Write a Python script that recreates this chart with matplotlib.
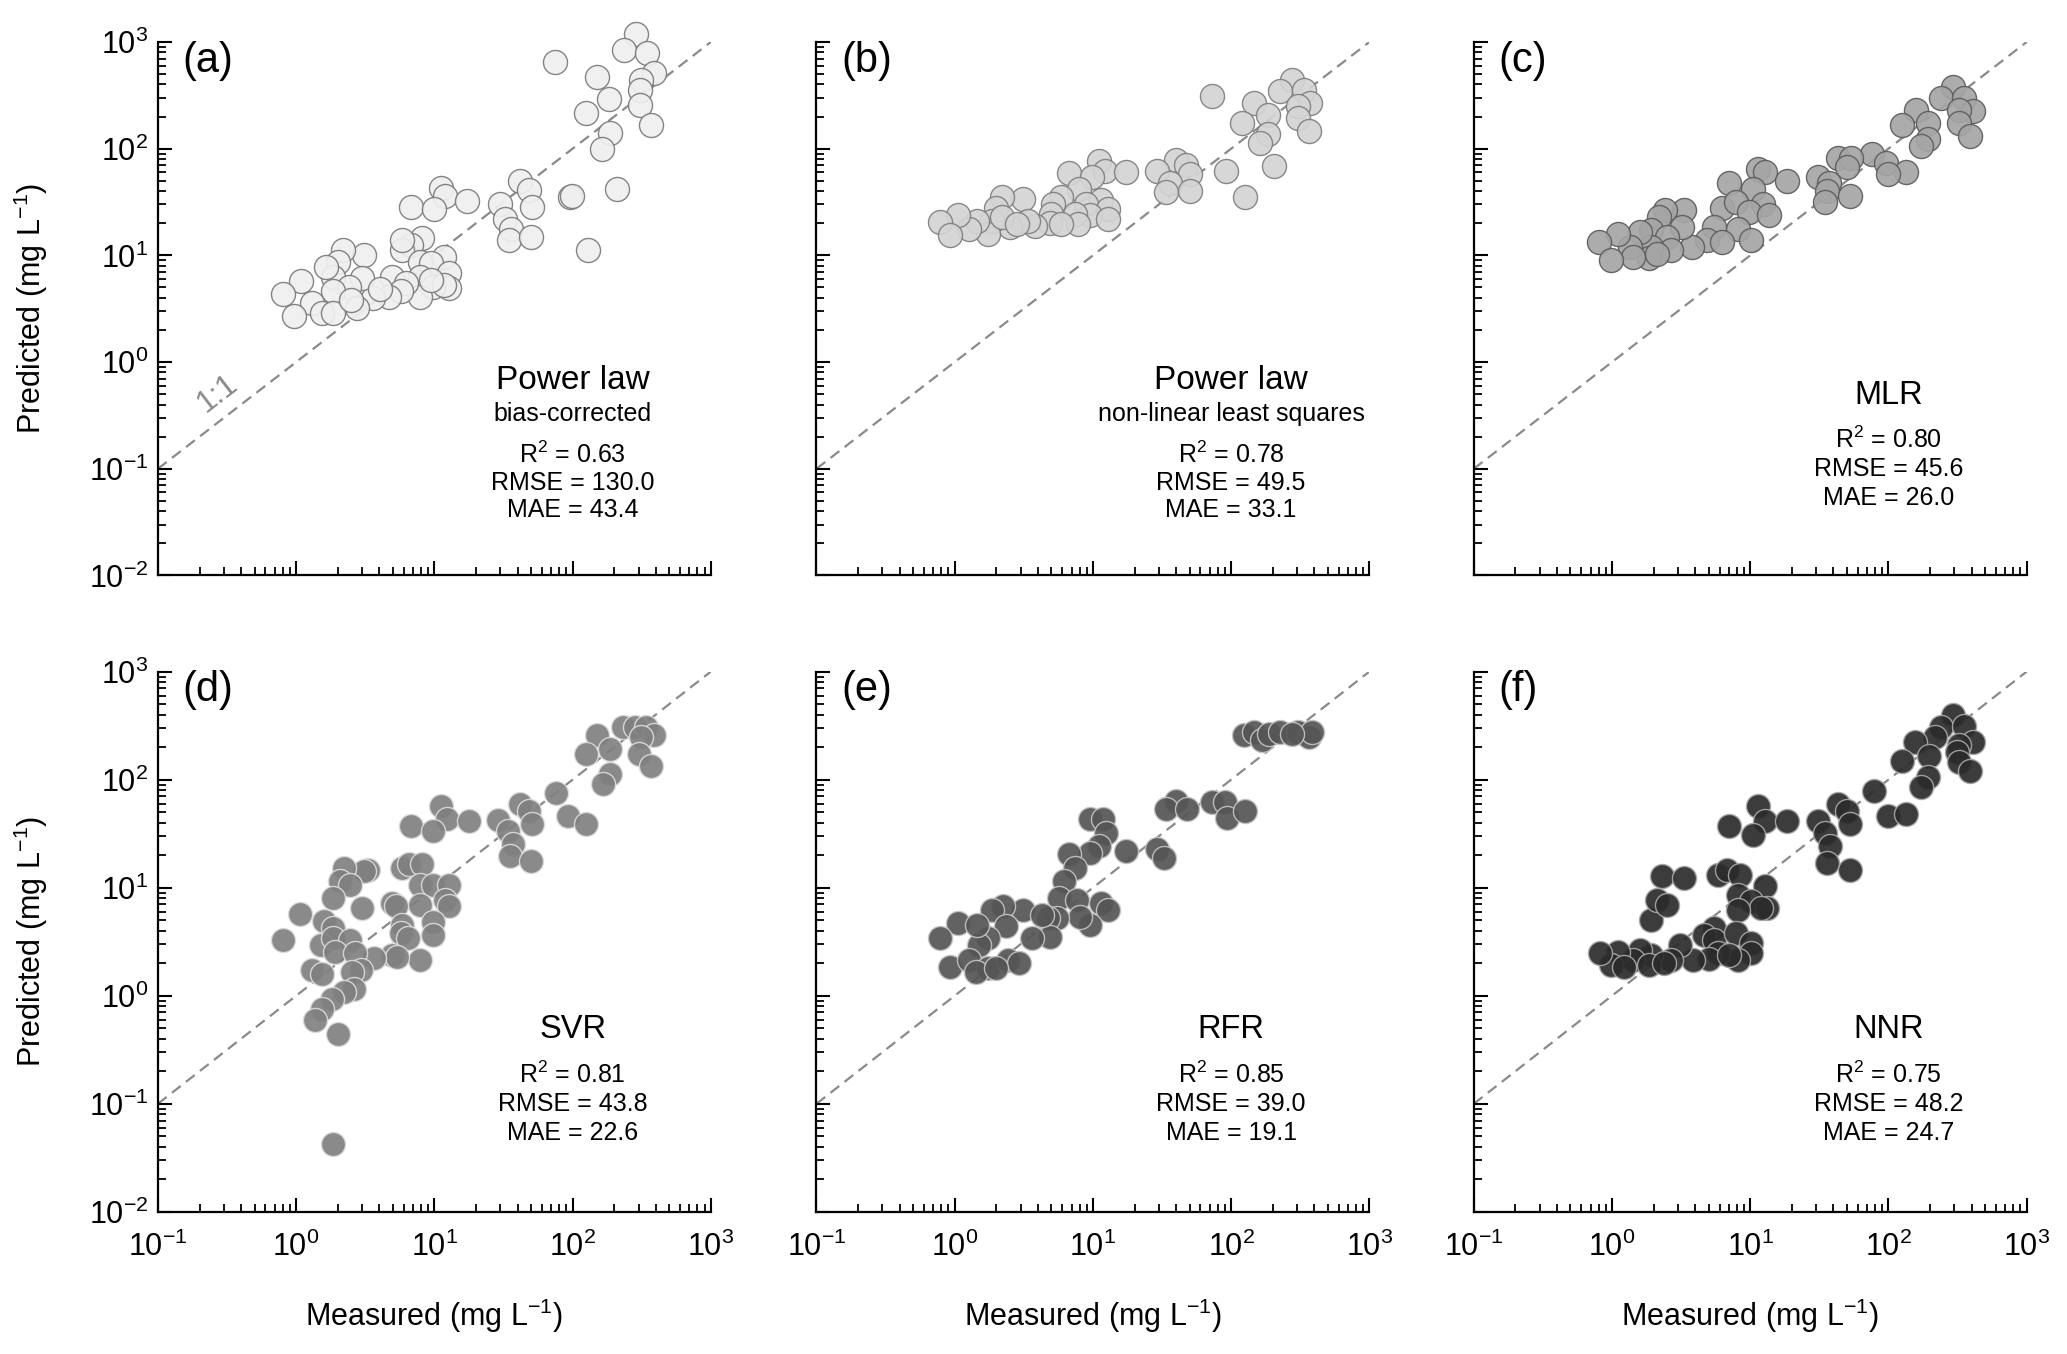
import math
import matplotlib
matplotlib.use('Agg')
import matplotlib.pyplot as plt
from matplotlib.ticker import LogLocator, NullFormatter

plt.rcParams['font.family'] = ['Liberation Sans', 'DejaVu Sans']
plt.rcParams['mathtext.fontset'] = 'custom'
plt.rcParams['mathtext.rm'] = 'Liberation Sans'
plt.rcParams['mathtext.it'] = 'Liberation Sans:italic'
plt.rcParams['mathtext.bf'] = 'Liberation Sans:bold'

# (a) power law, bias-corrected
meas_a = [287, 234, 344, 75, 150, 386, 313, 305, 184, 305, 124, 370, 187, 164, 208, 129, 96, 99,
          41.5, 48, 29.8, 51, 32.6, 35.6, 34.6, 49.7,
          11.1, 12, 17.3, 6.8, 9.9,
          8.1, 6.8, 5.8, 11.7, 7.9, 9.5, 12.8, 7.9, 12.8, 9.8, 7.9, 4.9, 6.2, 5.7, 4.7, 3.6, 3.1,
          2.2, 2.0, 3.0, 1.86, 2.4, 1.86, 1.08, 0.80, 1.30, 0.96, 1.55, 1.86, 2.75, 2.5, 1.65,
          11.7, 5.85, 9.5, 4.07]
pred_a = [1195, 837, 780, 652, 473, 508, 441, 356, 293, 258, 216, 168, 141, 99, 42, 11.2, 35.6, 36,
          50, 41, 30.4, 28.3, 22, 17.8, 13.9, 14.9,
          43, 36, 32, 28.3, 27.3,
          14.4, 12.5, 11.2, 9.7, 8.7, 8.4, 6.8, 6.3, 4.9, 5.1, 4.1, 6.3, 5.5, 4.6, 4.1, 4.0, 10.1,
          11.2, 8.7, 6.1, 6.3, 5.1, 4.6, 5.7, 4.3, 3.6, 2.7, 2.9, 2.9, 3.2, 3.85, 7.8,
          5.3, 13.9, 5.9, 4.8]

# (b) power law, non-linear least squares
meas_b = [277, 224, 336, 73, 147, 374, 303, 184, 303, 120, 363, 184, 161, 205, 126, 92,
          40, 47, 29, 50, 36, 34, 50,
          11, 12.2, 17.3, 6.7, 9.9, 7.9, 5.85, 11.4, 8.9, 12.8, 9.6, 7.4, 12.8, 7.8,
          5.1, 5.0, 4.9, 5.85, 3.8, 3.1, 3.4, 2.2, 2.0, 2.5, 1.86, 1.75, 1.46, 1.26, 1.05,
          0.78, 0.93, 2.2, 2.84]
pred_b = [441, 344, 356, 315, 267, 267, 249, 208, 194, 174, 146, 136, 114, 69, 35, 62,
          78, 71, 62, 58, 48, 39, 40,
          76, 62, 60, 59, 54, 42, 35, 33, 30, 27, 23.7, 24.5, 22, 19.8,
          30, 24.5, 20, 19.8, 19, 34, 21, 35, 28, 18.5, 21, 16, 21, 17.8, 23.7,
          20.6, 15.5, 22.9, 19.8]

# (c) MLR
meas_c = [294, 238, 352, 157, 410, 322, 322, 193, 126, 386, 193, 171,
          76, 96, 134, 99, 43, 54, 50, 31, 37, 36, 53, 35,
          11.4, 12.8, 18.4, 7.0, 10.4, 12.4, 6.2, 7.9, 9.8, 13.6, 8.1, 10.1, 5.5, 4.9, 6.2, 3.8,
          3.3, 2.4, 3.2, 2.2, 1.92, 2.5, 2.67, 1.92, 1.86, 1.6, 1.34, 1.42, 1.11, 0.80, 0.99, 2.1]
pred_c = [382, 298, 298, 232, 224, 232, 174, 174, 168, 131, 122, 106,
          89, 74, 60, 58, 82, 82, 67, 54, 48, 40, 36, 31.5,
          64, 60, 50, 48, 42, 30, 28, 31.5, 25.5, 23.7, 17.8, 13.9, 18.5, 13.9, 13.4, 12,
          26.4, 26.4, 18.5, 22.9, 17.2, 14.9, 11.2, 12, 9.4, 16.6, 12, 9.7, 16, 13.4, 9.1, 10.4]

# (d) SVR
meas_d = [231, 285, 342, 150, 386, 313, 187, 124, 303, 370, 187, 166,
          76, 41.5, 48, 93, 126, 29, 51, 34, 37, 35, 50,
          11.1, 12.4, 17.8, 6.8, 9.8, 5.85, 6.6, 8.1, 7.9, 9.8, 12.8, 12, 12.8, 7.9, 4.9, 5.3,
          9.8, 9.8, 5.85, 5.7, 6.4, 7.9, 4.9, 5.35, 3.65, 3.0, 3.3, 3.1, 2.23, 2.06, 2.44, 1.84,
          1.07, 1.6, 1.86, 0.80, 1.51, 1.86, 2.44, 1.92, 2.67, 2.93, 1.30, 1.55, 2.52, 2.6, 2.23,
          1.81, 1.55, 1.36, 2.0, 1.86]
pred_d = [307, 307, 307, 257, 257, 248, 193, 173, 173, 135, 113, 91,
          76, 60, 51, 46, 39, 42, 39, 33.5, 25.5, 19.6, 17.6,
          57, 43, 41.5, 37, 33.5, 15.2, 16.4, 16.4, 10.7, 10.7, 10.7, 7.7, 6.7, 6.95, 7.2, 6.7,
          4.85, 3.65, 4.5, 3.8, 3.4, 2.14, 2.38, 2.3, 2.24, 6.5, 14.7, 14.2, 15.2, 11.5, 10.7, 8.0,
          5.7, 4.93, 4.2, 3.25, 2.94, 3.4, 3.3, 2.55, 2.46, 1.72, 1.72, 1.6, 1.66, 1.16, 1.08,
          0.94, 0.76, 0.59, 0.44, 0.042]

# (e) RFR
meas_e = [123, 147, 166, 187, 224, 303, 363, 386, 277,
          40, 34, 48, 73, 91, 93, 126, 29, 32.6,
          9.6, 11.9, 12.4, 11, 17.3, 9.5, 6.7, 7.45, 6.2, 5.7, 7.7, 11.4, 12.8, 9.5, 8.1, 5.5,
          4.7, 4.9, 3.6, 3.1, 2.23, 1.86, 2.37, 1.75, 1.5, 1.05, 0.78, 0.93, 1.26, 1.75, 2.44,
          2.9, 1.42, 2.0, 1.46, 4.3]
pred_e = [257, 276, 231, 266, 276, 276, 248, 276, 266,
          64, 53, 53, 61.5, 61.5, 44.6, 51, 22.6, 18.9,
          43, 43, 32, 24.3, 21.8, 21, 20.6, 15.2, 11.5, 8.0, 7.7, 7.2, 6.2, 4.5, 5.4, 5.2,
          5.2, 3.5, 3.4, 6.2, 6.7, 6.2, 4.4, 3.4, 2.94, 4.7, 3.45, 1.85, 2.13, 1.79, 2.13,
          1.99, 1.66, 1.79, 4.5, 5.6]

# (f) NNR
meas_f = [294, 238, 352, 218, 156, 410, 322, 313, 195, 126, 322, 386, 193, 171,
          78, 43, 50, 99, 134, 31, 53, 35, 38, 36, 53,
          11.4, 12.8, 18.4, 7.0, 10.4, 5.85, 6.8, 8.4, 12.8, 8.1, 10.1, 13.2, 12, 8.1,
          1.92, 2.1, 2.52, 2.3, 3.34, 5.5, 4.6, 5.5, 7.9, 10.1, 10.1, 8.1, 5.85, 5.0, 3.84,
          3.1, 2.67, 1.92, 1.6, 1.42, 1.11, 0.99, 0.82, 1.86, 2.37, 1.22, 7.0]
pred_f = [394, 307, 312, 248, 223, 223, 207, 180, 164, 150, 145, 121, 105, 85,
          79, 59, 51, 46, 48, 41.5, 39, 32, 24.3, 17, 14.7,
          57, 41.5, 41.5, 37, 31, 13.2, 14.7, 13.2, 10.3, 8.6, 7.5, 6.5, 6.5, 6.2,
          5.0, 7.7, 6.95, 12.8, 12.3, 4.2, 3.65, 3.3, 3.8, 3.05, 2.46, 2.13, 2.46, 2.2, 2.13,
          2.94, 2.13, 2.38, 2.64, 2.13, 2.55, 1.92, 2.46, 1.92, 1.99, 1.85, 2.38]

letters = ['(a)', '(b)', '(c)', '(d)', '(e)', '(f)']
models = ['Power law', 'Power law', 'MLR', 'SVR', 'RFR', 'NNR']
notes = ['bias-corrected', 'non-linear least squares', '', '', '', '']
r2 = ['0.63', '0.78', '0.80', '0.81', '0.85', '0.75']
rmse = ['130.0', '49.5', '45.6', '43.8', '39.0', '48.2']
mae = ['43.4', '33.1', '26.0', '22.6', '19.1', '24.7']
measured = [meas_a, meas_b, meas_c, meas_d, meas_e, meas_f]
predicted = [pred_a, pred_b, pred_c, pred_d, pred_e, pred_f]
faces = ['#efefef', '#d4d4d4', '#a5a5a5', '#808080', '#555555', '#2b2b2b']
edges = ['#7a7a7a', '#7f7f7f', '#5c5c5c', '#dcdcdc', '#c4c4c4', '#a8a8a8']

W, H = 2067, 1354
fig = plt.figure(figsize=(W / 100, H / 100), dpi=100)

lefts = [0.0764, 0.395, 0.713]
bottoms = [0.575, 0.105]
heights = [0.394, 0.399]
aw = 0.2675

for i in range(6):
    row, col = divmod(i, 3)
    ah = heights[row]
    ax = fig.add_axes([lefts[col], bottoms[row], aw, ah])
    ax.set_xscale('log')
    ax.set_yscale('log')

    ax.plot([0.1, 1000], [0.1, 1000], ls=(0, (5, 3)), color='#8a8a8a', lw=1.6, zorder=1)
    ax.scatter(measured[i], predicted[i], s=300, c=faces[i], edgecolors=edges[i],
               linewidths=1.0, alpha=0.92, zorder=3, clip_on=False)

    ax.set_xlim(0.1, 1000)
    ax.set_ylim(0.01, 1000)
    for side in ['top', 'right']:
        ax.spines[side].set_visible(False)
    for side in ['left', 'bottom']:
        ax.spines[side].set_linewidth(1.6)

    for a in [ax.xaxis, ax.yaxis]:
        a.set_major_locator(LogLocator(base=10, numticks=12))
        a.set_minor_locator(LogLocator(base=10, subs=range(2, 10), numticks=12))
        a.set_minor_formatter(NullFormatter())
    ax.tick_params(which='major', direction='in', length=10, width=1.5, labelsize=22)
    ax.tick_params(which='minor', direction='in', length=5.5, width=1.3)
    ax.tick_params(axis='x', which='major', pad=14)
    ax.tick_params(axis='y', which='major', pad=7)

    if col > 0:
        ax.tick_params(labelleft=False)
    else:
        ax.set_ylabel('Predicted (mg L$^{-1}$)', fontsize=22)
        ax.yaxis.set_label_coords(-0.195, 0.5)
    if row == 0:
        ax.tick_params(labelbottom=False)
    else:
        ax.set_xlabel('Measured (mg L$^{-1}$)', fontsize=22)
        ax.xaxis.set_label_coords(0.5, -0.158)

    ax.text(0.045, 0.965, letters[i], transform=ax.transAxes, fontsize=30,
            ha='left', va='center')

    tx = 0.75
    if notes[i]:
        ax.text(tx, 0.365, models[i], transform=ax.transAxes, fontsize=24, ha='center', va='center')
        ax.text(tx, 0.303, notes[i], transform=ax.transAxes, fontsize=18, ha='center', va='center')
        ys = [0.226, 0.174, 0.122]
    else:
        ax.text(tx, 0.338, models[i], transform=ax.transAxes, fontsize=23.5, ha='center', va='center')
        ys = [0.254, 0.200, 0.146]
    stats = [r'R$^2$ = ' + r2[i], 'RMSE = ' + rmse[i], 'MAE = ' + mae[i]]
    for s, yy in zip(stats, ys):
        ax.text(tx, yy, s, transform=ax.transAxes, fontsize=18, ha='center', va='center')

    if i == 0:
        angle = math.degrees(math.atan((ah * H / 5) / (aw * W / 4)))
        ax.text(0.27, 0.5, '1:1', transform=ax.transData, fontsize=22, color='#8a8a8a',
                rotation=angle, ha='center', va='center', rotation_mode='anchor')

fig.savefig('out.png', dpi=100)
